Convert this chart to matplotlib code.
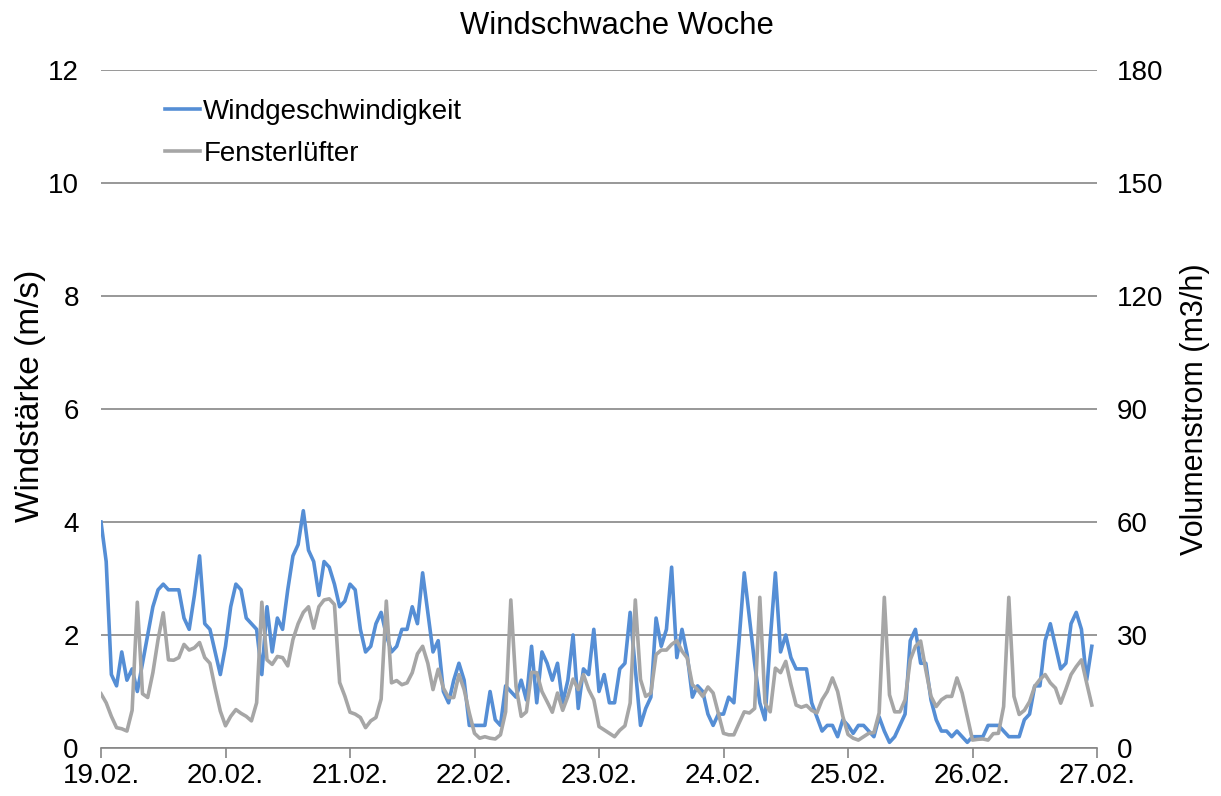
import numpy as np
import matplotlib
matplotlib.use("Agg")
import matplotlib.pyplot as plt

plt.rcParams['font.family'] = ['Liberation Sans', 'DejaVu Sans']

day_labels = ["19.02.", "20.02.", "21.02.", "22.02.", "23.02.", "24.02.", "25.02.", "26.02.", "27.02."]

# Windgeschwindigkeit (m/s), hourly values
wind = [
    4.0, 3.3, 1.3, 1.1, 1.7, 1.2, 1.4, 1.0, 1.5, 2.0, 2.5, 2.8, 2.9, 2.8, 2.8, 2.8, 2.3, 2.1, 2.7, 3.4, 2.2, 2.1, 1.7, 1.3,
    1.8, 2.5, 2.9, 2.8, 2.3, 2.2, 2.1, 1.3, 2.5, 1.7, 2.3, 2.1, 2.8, 3.4, 3.6, 4.2, 3.5, 3.3, 2.7, 3.3, 3.2, 2.9, 2.5, 2.6,
    2.9, 2.8, 2.1, 1.7, 1.8, 2.2, 2.4, 2.0, 1.7, 1.8, 2.1, 2.1, 2.5, 2.2, 3.1, 2.4, 1.7, 1.9, 1.0, 0.8, 1.2, 1.5, 1.2, 0.4,
    0.4, 0.4, 0.4, 1.0, 0.5, 0.4, 1.1, 1.0, 0.9, 1.2, 0.85, 1.8, 0.8, 1.7, 1.5, 1.2, 1.5, 0.8, 1.2, 2.0, 0.7, 1.4, 1.3, 2.1,
    1.0, 1.3, 0.8, 0.8, 1.4, 1.5, 2.4, 1.4, 0.4, 0.7, 0.9, 2.3, 1.8, 2.1, 3.2, 1.6, 2.1, 1.65, 0.9, 1.1, 1.0, 0.6, 0.4, 0.6,
    0.6, 0.9, 0.8, 1.9, 3.1, 2.3, 1.5, 0.8, 0.5, 1.9, 3.1, 1.7, 2.0, 1.6, 1.4, 1.4, 1.4, 0.8, 0.55, 0.3, 0.4, 0.4, 0.2, 0.5,
    0.4, 0.26, 0.4, 0.4, 0.3, 0.2, 0.55, 0.3, 0.1, 0.2, 0.4, 0.6, 1.9, 2.1, 1.5, 1.5, 0.85, 0.5, 0.3, 0.3, 0.2, 0.3, 0.2, 0.1,
    0.2, 0.2, 0.2, 0.4, 0.4, 0.4, 0.3, 0.2, 0.2, 0.2, 0.5, 0.6, 1.1, 1.1, 1.9, 2.2, 1.8, 1.4, 1.5, 2.2, 2.4, 2.1, 1.2, 1.8,
]

# Fensterlüfter Volumenstrom (m3/h), hourly values
vent = [
    14.4, 12.0, 8.4, 5.4, 5.1, 4.5, 10.0, 38.7, 14.4, 13.4, 20.0, 28.8, 35.9, 23.4, 23.3, 24.0, 27.5, 26.0, 26.6, 28.0, 24.0, 22.5, 15.9, 9.8,
    5.9, 8.4, 10.2, 9.2, 8.4, 7.2, 12.0, 38.7, 23.4, 22.2, 24.3, 24.0, 21.8, 28.8, 33.0, 36.0, 37.5, 31.8, 37.5, 39.3, 39.6, 38.1, 17.4, 13.8,
    9.5, 9.0, 8.1, 5.4, 7.2, 8.1, 13.0, 39.0, 17.3, 17.9, 16.8, 17.3, 20.0, 25.0, 27.0, 22.5, 15.5, 20.9, 15.9, 13.4, 13.4, 19.5, 15.5, 9.3,
    3.9, 2.6, 3.0, 2.6, 2.4, 3.5, 9.6, 39.3, 16.4, 8.4, 9.6, 20.1, 20.0, 15.0, 12.3, 9.5, 14.6, 10.0, 13.7, 18.3, 15.5, 19.5, 15.5, 12.8,
    5.7, 4.8, 3.9, 3.0, 4.7, 5.9, 11.9, 39.3, 18.2, 13.7, 14.6, 24.8, 26.0, 26.0, 27.5, 28.5, 25.7, 23.9, 16.8, 15.5, 13.7, 16.2, 14.6, 9.3,
    3.9, 3.5, 3.5, 6.6, 9.6, 9.3, 10.5, 40.0, 11.9, 9.6, 21.2, 20.0, 23.0, 16.8, 11.4, 10.8, 11.3, 10.0, 9.3, 12.8, 15.0, 18.6, 15.0, 8.4,
    3.6, 2.6, 2.1, 3.0, 3.9, 4.1, 9.3, 40.0, 14.1, 9.6, 9.6, 12.8, 23.4, 27.0, 28.4, 20.7, 13.7, 11.0, 12.8, 13.7, 13.7, 18.6, 14.6, 8.4,
    2.1, 2.3, 2.4, 2.1, 3.8, 3.9, 11.0, 40.0, 13.7, 8.9, 10.0, 12.3, 16.4, 18.2, 19.5, 17.3, 15.9, 11.9, 15.6, 19.5, 21.6, 23.4, 17.3, 11.4,
]

hours = np.arange(len(wind))
left_ticks = [0, 2, 4, 6, 8, 10, 12]
right_ticks = [0, 30, 60, 90, 120, 150, 180]

blue = "#558ED5"
grey = "#A6A6A6"
gridc = "#868686"
fs = 20

fig = plt.figure(figsize=(12.21, 7.96), dpi=100)
ax = fig.add_axes([101/1221, 1-748/796, 996/1221, 678/796])
ax2 = ax.twinx()

l1, = ax.plot(hours, wind, color=blue, lw=2.6, label="Windgeschwindigkeit", solid_joinstyle='round')
l2, = ax2.plot(hours, vent, color=grey, lw=2.6, label="Fensterlüfter", solid_joinstyle='round')

ax.set_xlim(0, 192)
ax.set_ylim(0, 12)
ax2.set_ylim(0, 180)
ax.set_yticks(left_ticks)
ax.set_yticklabels([str(t) for t in left_ticks])
ax2.set_yticks(right_ticks)
ax2.set_yticklabels([str(t) for t in right_ticks])
ax.set_xticks(np.arange(0, 193, 24))
ax.set_xticklabels(day_labels)

ax.grid(axis='y', color=gridc, lw=1.2)
ax.set_axisbelow(True)
for a in (ax, ax2):
    for s in ('top', 'left', 'right'):
        a.spines[s].set_visible(False)
    a.spines['bottom'].set_color(gridc)
    a.spines['bottom'].set_linewidth(1.2)
ax2.spines['bottom'].set_visible(False)

ax.tick_params(axis='y', length=0, pad=16, labelsize=fs)
ax2.tick_params(axis='y', length=0, pad=14, labelsize=fs)
ax.tick_params(axis='x', length=7, width=1.2, color=gridc, pad=4, labelsize=fs, direction='out')

ax.set_ylabel("Windstärke (m/s)", fontsize=24)
ax.yaxis.set_label_coords(-0.071, 0.52)
ax.yaxis.label.set_verticalalignment('center')
ax2.set_ylabel("Volumenstrom (m3/h)", fontsize=22)
ax2.yaxis.set_label_coords(1.098, 0.5)
ax2.yaxis.label.set_verticalalignment('center')

fig.text(617/1221, 1-26/796, "Windschwache Woche", fontsize=22.3, ha='center', va='center')

ax2.legend(handles=[l1, l2], loc='upper left', bbox_to_anchor=(165/1221, 1-99/796),
           bbox_transform=fig.transFigure, frameon=False, fontsize=fs,
           borderpad=0, borderaxespad=0, handlelength=1.26, handletextpad=0.12, labelspacing=0.57)

fig.savefig("out.png", dpi=100)
